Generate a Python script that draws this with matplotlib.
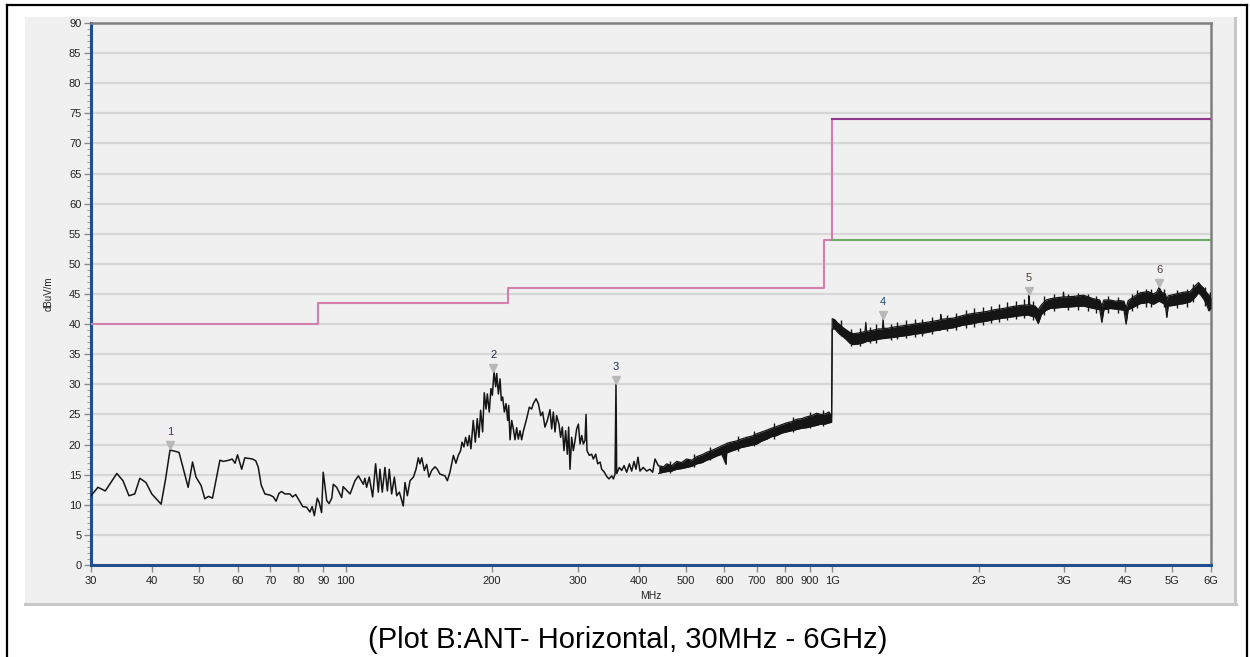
import matplotlib
matplotlib.use("Agg")
import matplotlib.pyplot as plt
from matplotlib.ticker import FixedLocator, FixedFormatter, MultipleLocator, NullLocator
from matplotlib.transforms import offset_copy
from matplotlib.lines import Line2D
from matplotlib.patches import Rectangle

plt.rcParams['font.family'] = ['Liberation Sans', 'DejaVu Sans']

# measured trace, 30 - 440 MHz (MHz, dBuV/m)
low_freq = [30.0, 31.0, 32.1, 33.9, 34.9, 35.9, 36.9, 37.8, 38.9, 40.0, 41.8, 42.7, 43.6,
            45.5, 47.5, 48.5, 49.3, 50.5, 51.4, 52.3, 53.3, 55.2, 56.1, 57.6, 58.5, 59.3,
            60.0, 61.2, 62.1, 64.4, 65.4, 66.2, 67.1, 68.3, 70.0, 71.1, 72.0, 73.0, 73.9,
            75.1, 76.9, 77.8, 79.0, 80.6, 81.7, 83.2, 84.5, 85.4, 86.3, 87.5, 88.3, 89.3,
            90.0, 91.5, 92.5, 93.7, 94.4, 95.9, 98.2, 98.9, 102.2, 104.6, 106.3,
            108.8, 109.6, 110.5, 111.9, 113.7, 115.3, 116.8, 117.7, 119.0, 120.5, 121.9,
            123.0, 124.4, 126.0, 127.4, 129.0, 130.0, 131.4, 132.5, 134.0, 135.7, 137.9,
            139.6, 141.1, 142.2, 143.4, 145.2, 146.8, 148.4, 150.3, 152.7, 154.4, 156.3,
            160.1, 161.9, 163.9, 166.6, 168.6, 170.5, 172.4, 173.5, 175.1, 176.5, 178.2,
            179.6, 181.0, 183.0, 184.8, 186.5, 188.0, 189.5, 191.3, 192.8, 194.4, 195.6,
            197.4, 199.0, 200.3, 201.9, 203.5, 204.5, 206.1, 207.7, 209.0, 210.3, 212.0,
            213.7, 215.4, 216.4, 217.8, 219.5, 221.2, 223.0, 224.7, 226.5, 228.3, 230.1,
            231.9, 235.6, 238.6, 241.2, 243.2, 246.3, 249.0, 251.8, 254.1, 256.9, 259.8,
            263.1, 265.2, 267.3, 269.4, 271.5, 274.5, 276.7, 278.9, 281.1, 283.3, 285.6,
            287.4, 289.2, 291.5, 293.8, 296.2, 298.5, 300.9, 303.3, 305.7, 308.1, 310.5,
            312.0, 313.4, 316.9, 320.4, 323.0, 326.6, 329.7, 333.4, 336.0, 339.7, 344.1,
            347.8, 352.3, 355.1, 357.9, 359.5, 360.7, 365.3, 369.4, 373.5, 378.2, 383.0,
            387.2, 391.5, 395.2, 398.9, 402.7, 409.1, 415.6, 422.2, 427.6, 432.4, 439.2]
low_level = [11.5, 12.9, 12.3, 15.2, 14.0, 11.5, 11.8, 14.4, 13.7, 11.8, 10.1, 14.3, 19.1,
             18.7, 12.9, 17.1, 14.6, 13.2, 11.0, 11.4, 11.1, 17.4, 17.2, 17.4, 17.6, 16.9,
             18.3, 15.9, 17.8, 17.6, 17.3, 16.2, 13.3, 11.8, 11.6, 11.3, 10.6, 11.9, 12.2,
             11.8, 11.8, 11.3, 11.7, 10.5, 9.7, 9.6, 8.8, 9.7, 8.2, 11.1, 10.4, 8.7,
             15.4, 10.7, 10.2, 11.1, 13.4, 12.9, 11.2, 13.0, 11.8, 14.0, 14.8,
             13.4, 14.4, 12.9, 14.6, 11.3, 16.8, 12.1, 15.9, 12.1, 16.2, 12.3,
             15.9, 11.8, 14.6, 11.5, 12.1, 11.2, 9.8, 13.7, 11.5, 14.0, 14.6,
             15.9, 17.8, 16.8, 17.8, 15.7, 16.7, 14.6, 15.7, 16.3, 15.9, 15.1,
             14.8, 14.0, 15.4, 18.2, 16.9, 18.2, 19.0, 20.4, 19.6, 21.2, 19.8,
             21.5, 19.3, 24.0, 20.4, 24.3, 21.2, 25.7, 22.1, 28.6, 25.9, 28.4,
             25.4, 29.3, 28.2, 32.1, 29.6, 31.8, 28.4, 30.9, 27.3, 27.9, 25.4,
             26.8, 24.0, 26.5, 20.8, 24.0, 22.6, 20.8, 22.8, 20.9, 22.3, 20.8,
             22.2, 24.3, 26.2, 25.9, 26.8, 27.6, 26.8, 24.8, 25.4, 22.9, 24.0,
             25.8, 22.6, 25.4, 22.1, 24.8, 23.4, 21.2, 22.9, 19.0, 22.3, 18.4,
             22.9, 15.9, 21.2, 19.0, 20.7, 22.6, 23.4, 20.1, 21.5, 20.1, 20.7,
             25.0, 19.0, 18.2, 18.4, 17.6, 18.4, 16.8, 17.1, 15.9, 15.5, 14.7,
             14.3, 14.8, 14.3, 15.1, 30.0, 15.2, 16.2, 15.7, 16.5, 15.4, 16.8,
             15.6, 17.2, 15.9, 17.9, 15.6, 16.2, 15.6, 15.9, 15.4, 17.6, 16.5]

# dense sweep 440 MHz - 6 GHz, read as lower / upper edge of the noise band
band_freq = [440, 450, 457, 468, 479, 490, 502, 515, 527, 540, 552, 565, 579, 593, 605, 607,
             620, 636, 650, 667, 684, 700, 717, 734, 750, 769, 787, 806, 825, 845, 865, 886,
             907, 929, 948, 967, 985, 997, 1000, 1013, 1025, 1037, 1053, 1070, 1088, 1105,
             1130, 1158, 1168, 1172, 1176, 1215, 1245, 1268, 1272, 1276, 1300, 1336, 1390,
             1445, 1500, 1564, 1620, 1668, 1671, 1675, 1774, 1850, 1920, 2000, 2078, 2160,
             2248, 2340, 2432, 2530, 2537, 2545, 2610, 2650, 2690, 2750, 2803, 2900, 2980,
             2986, 2992, 3130, 3282, 3441, 3545, 3580, 3615, 3724, 3820, 3904, 3975, 4015,
             4055, 4157, 4290, 4380, 4463, 4571, 4640, 4692, 4750, 4835, 4868, 4900, 5023,
             5150, 5268, 5436, 5560, 5655, 5720, 5791, 5882, 5940, 6000]
band_lo = [15.2, 15.4, 15.5, 15.6, 15.9, 16.0, 16.2, 16.4, 16.8, 17.0, 17.4, 17.7, 18.1, 18.4,
           16.7, 18.6, 18.9, 19.2, 19.5, 19.7, 19.9, 20.1, 20.6, 20.9, 21.3, 21.5, 21.9, 22.1,
           22.3, 22.5, 22.7, 22.8, 23.0, 23.2, 23.4, 23.4, 23.6, 23.7, 39.2, 39.2, 38.7, 38.3,
           37.9, 37.4, 36.8, 36.6, 36.7, 36.9, 37.0, 37.1, 37.1, 37.3, 37.5, 37.6, 37.6, 37.6,
           37.7, 37.8, 38.0, 38.2, 38.4, 38.6, 38.9, 39.0, 39.1, 39.1, 39.4, 39.8, 40.0, 40.3,
           40.5, 40.8, 41.0, 41.2, 41.4, 41.5, 41.5, 41.4, 41.2, 40.1, 41.6, 42.3, 42.6, 42.7,
           42.8, 42.8, 42.8, 42.9, 43.0, 42.6, 42.4, 40.3, 42.4, 42.6, 42.5, 42.4, 42.3, 40.0,
           42.4, 42.8, 43.4, 43.5, 43.6, 43.3, 43.6, 43.8, 43.6, 43.2, 41.1, 43.0, 43.1,
           43.3, 43.4, 43.7, 44.4, 45.2, 44.8, 44.2, 43.2, 42.2, 42.6]
band_hi = [16.5, 16.3, 16.8, 16.5, 17.2, 17.0, 17.6, 17.4, 18.0, 18.3, 18.7, 19.0, 19.4, 19.8,
           20.1, 20.2, 20.4, 20.6, 20.9, 21.2, 21.4, 21.8, 22.1, 22.4, 22.7, 23.0, 23.3, 23.6,
           23.8, 24.2, 24.3, 24.6, 24.8, 25.2, 25.0, 25.1, 25.4, 24.6, 40.9, 40.7, 40.2, 39.9,
           39.4, 39.0, 38.6, 38.4, 38.5, 38.7, 38.8, 40.3, 38.8, 39.0, 39.2, 39.2, 40.9, 39.3,
           39.3, 39.5, 39.7, 39.9, 40.1, 40.3, 40.5, 40.7, 41.6, 40.8, 41.0, 41.4, 41.7, 41.9,
           42.1, 42.4, 42.6, 42.9, 43.1, 43.2, 44.9, 43.2, 43.0, 42.4, 43.2, 44.0, 44.2, 44.4,
           44.5, 45.3, 44.5, 44.6, 44.8, 44.2, 44.0, 43.0, 44.0, 44.0, 43.8, 43.9, 43.8, 42.6,
           43.9, 44.5, 45.2, 45.3, 45.4, 45.0, 45.3, 46.1, 45.3, 45.0, 44.0, 44.7, 44.9,
           45.1, 45.3, 45.4, 46.3, 46.9, 46.4, 46.0, 45.2, 44.8, 44.4]

# single sweep points poking out of the noise band (freq, low, high)
burst_freq = [465, 520, 560, 640, 690, 760, 830, 900, 955, 1040, 1095, 1140, 1195, 1230,
              1320, 1360, 1420, 1480, 1530, 1600, 1720, 1800, 1880, 1960, 2040, 2120, 2200,
              2290, 2380, 2480, 2580, 2720, 2850, 3050, 3200, 3350, 3480, 3680, 3860, 4120,
              4230, 4420, 4520, 4800, 5100, 5350, 5500, 5840, 5970]
burst_lo = [15.3, 16.3, 17.5, 19.0, 19.8, 21.0, 22.1, 22.7, 23.0, 38.0, 36.3, 36.4, 36.8, 36.9,
            37.3, 37.5, 37.7, 37.9, 38.1, 38.3, 38.8, 39.0, 39.3, 39.6, 39.9, 40.2, 40.4,
            40.6, 40.8, 41.0, 40.6, 41.5, 42.1, 42.3, 42.4, 42.2, 41.8, 41.9, 41.9, 42.1,
            42.6, 42.9, 42.8, 42.9, 42.6, 42.9, 43.6, 43.0, 42.5]
burst_hi = [17.3, 18.5, 19.6, 21.4, 22.2, 23.6, 24.6, 25.4, 25.8, 40.6, 39.2, 39.3, 39.6, 40.0,
            40.1, 40.4, 40.6, 40.9, 40.8, 41.2, 41.5, 41.9, 42.3, 42.6, 42.9, 43.0, 43.3,
            43.6, 43.8, 44.1, 43.9, 44.6, 45.0, 45.0, 45.2, 45.0, 44.7, 44.6, 44.5, 45.0,
            45.7, 45.8, 45.9, 45.9, 45.6, 45.9, 46.6, 46.2, 45.3]

# limit lines
qp_freq = [30, 88, 216, 960, 1000, 6000]
qp_level = [40, 43.5, 46, 54, 74, 74]
peak_freq = [1000, 6000]
peak_level = [74, 74]
avg_freq = [1000, 6000]
avg_level = [54, 54]

# markers
mk_label = ['1', '2', '3', '4', '5', '6']
mk_freq = [43.6, 201.0, 359.5, 1272, 2537, 4692]
mk_level = [19.3, 32.1, 30.0, 40.9, 44.9, 46.1]
mk_color = ['#5a2a6a', '#1a2a4a', '#1a2a4a', '#1a4a7a', '#4a3a2a', '#4a3a3a']

xtick_vals = [30, 40, 50, 60, 70, 80, 90, 100, 200, 300, 400, 500, 600, 700, 800, 900,
              1000, 2000, 3000, 4000, 5000, 6000]
xtick_text = ['30', '40', '50', '60', '70', '80', '90', '100', '200', '300', '400', '500',
              '600', '700', '800', '900', '1G', '2G', '3G', '4G', '5G', '6G']

W, H = 1250, 657
fig = plt.figure(figsize=(W / 100, H / 100), dpi=100)
fig.patch.set_facecolor('white')

# grey panel behind the chart, with a little shadow
fig.patches.append(Rectangle((25 / W, 1 - 604 / H), (1234 - 25) / W, (604 - 17) / H,
                             transform=fig.transFigure, facecolor='#f0f0f0',
                             edgecolor='none', zorder=-5))
fig.add_artist(Line2D([1235 / W, 1235 / W], [1 - 604 / H, 1 - 18 / H], color='#c8c8c8',
                      lw=2.2, zorder=-4))
fig.add_artist(Line2D([25 / W, 1236 / W], [1 - 604 / H, 1 - 604 / H], color='#c8c8c8',
                      lw=2.2, zorder=-4))

# outer frame
fig.add_artist(Line2D([7 / W, 7 / W], [0, 1 - 5 / H], color='black', lw=1.6))
fig.add_artist(Line2D([7 / W, 1247 / W], [1 - 5 / H, 1 - 5 / H], color='black', lw=1.6))
fig.add_artist(Line2D([1247 / W, 1247 / W], [0, 1 - 5 / H], color='black', lw=1.6))

ax = fig.add_axes([91 / W, (H - 565) / H, 1120 / W, 542 / H])
ax.set_zorder(1)
ax.set_facecolor('#f0f0f0')
ax.set_xscale('log')
ax.set_xlim(30, 6000)
ax.set_ylim(0, 90)

ax.yaxis.set_major_locator(MultipleLocator(5))
ax.yaxis.set_minor_locator(MultipleLocator(1))
ax.yaxis.grid(True, which='major', color='#d6d6d6', lw=1.6)
ax.set_axisbelow(True)

ax.xaxis.set_major_locator(FixedLocator(xtick_vals))
ax.xaxis.set_major_formatter(FixedFormatter(xtick_text))
ax.xaxis.set_minor_locator(NullLocator())

# limits
ax.step(qp_freq, qp_level, where='post', color='#d47fae', lw=1.5, zorder=3)
ax.plot(peak_freq, peak_level, color='#8e3a8e', lw=1.5, zorder=4)
ax.plot(avg_freq, avg_level, color='#6aaa64', lw=1.5, zorder=4)

# trace
tc = '#151515'
ax.plot(low_freq, low_level, color=tc, lw=1.1, zorder=5)
ax.fill_between(band_freq, band_lo, band_hi, color=tc, lw=0, zorder=5)
ax.plot(band_freq, band_hi, color=tc, lw=0.9, zorder=5)
ax.plot(band_freq, band_lo, color=tc, lw=0.9, zorder=5)
ax.vlines(burst_freq, burst_lo, burst_hi, color=tc, lw=1.0, zorder=5)

# markers
tri_tr = offset_copy(ax.transData, fig=fig, x=0, y=4, units='dots')
for lab, f, v, c in zip(mk_label, mk_freq, mk_level, mk_color):
    ax.plot([f], [v], marker='v', ms=6, color='#b8b8b8', mec='#b8b8b8',
            transform=tri_tr, zorder=6, clip_on=False)
    ax.annotate(lab, (f, v), xytext=(0, 17), textcoords='offset pixels',
                ha='center', va='center', fontsize=8, color=c, zorder=7)

# spines and ticks
for s in ['left', 'bottom']:
    ax.spines[s].set_color('#1f4f8f')
    ax.spines[s].set_linewidth(2.2)
for s in ['top', 'right']:
    ax.spines[s].set_color('#7f7f7f')
    ax.spines[s].set_linewidth(1.8)

ax.tick_params(axis='y', which='major', length=5, width=1, color='#8a8a8a',
               labelsize=8, labelcolor='#222222', pad=2)
ax.tick_params(axis='y', which='minor', length=3, width=0.8, color='#a0a0a0')
ax.tick_params(axis='x', which='major', length=5, width=1, color='#8a8a8a',
               labelsize=8, labelcolor='#222222', pad=3)

ax.set_ylabel('dBuV/m', fontsize=7, color='#222222')
ax.yaxis.set_label_coords((54 - 91) / 1120, 0.5)
ax.set_xlabel('MHz', fontsize=7.5, color='#222222')
ax.xaxis.set_label_coords(0.5, (565 - 591) / 542)

fig.text(628 / W, 1 - 640 / H, '(Plot B:ANT- Horizontal, 30MHz - 6GHz)',
         ha='center', va='center', fontsize=21, color='black')

fig.savefig('out.png', dpi=100)
